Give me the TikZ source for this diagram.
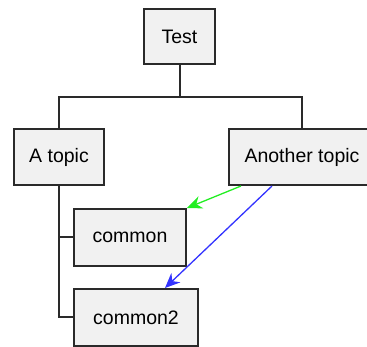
\documentclass[tikz,border=0pt]{standalone}
\usepackage{fontspec}
\setmainfont{Liberation Sans}
\usetikzlibrary{arrows.meta,calc}

\definecolor{boxfill}{HTML}{F1F1F1}
\definecolor{boxline}{HTML}{2A2A2A}
\definecolor{linkgreen}{HTML}{22EE22}
\definecolor{linkblue}{HTML}{3333FF}

\begin{document}
\begin{tikzpicture}[
  x=1pt, y=-1pt,
  box/.style={draw=boxline, fill=boxfill, line width=2pt, inner sep=0pt,
    font=\fontsize{19.5}{21}\selectfont},
  link/.style={draw=boxline, line width=2pt},
  arrow/.style={-{Stealth[length=15pt, width=13pt, inset=5pt]}, line width=1.3pt},
]
\useasboundingbox (0,0) rectangle (367,347);

% === WBS NODES ===
\node[box, minimum width=71pt, minimum height=55pt] (test) at (179.5,36.5) {Test};
\node[box, minimum width=90pt, minimum height=56pt] (atopic) at (59,157) {A topic};
\node[box, minimum width=146pt, minimum height=56pt] (another) at (302,157) {Another topic};
\node[box, minimum width=112pt, minimum height=57pt] (common) at (130,237.5) {common};
\node[box, minimum width=124pt, minimum height=57pt] (common2) at (136,317.5) {common2};

% === TREE LINES ===
\coordinate (split) at (179.5,97);
\draw[link] (test.south) -- (split) -| (atopic.north);
\draw[link] (split) -| (another.north);
\draw[link] (atopic.south) |- (common2.west);
\draw[link] (atopic.south |- common.west) -- (common.west);

% === CROSS LINKS ===
\draw[arrow, linkgreen] ($(another.south west)+(13,0)$) -- (common.north east);
\draw[arrow, linkblue] ($(another.south west)+(44,0)$) -- ($(common2.north)+(29,0)$);
\end{tikzpicture}
\end{document}
